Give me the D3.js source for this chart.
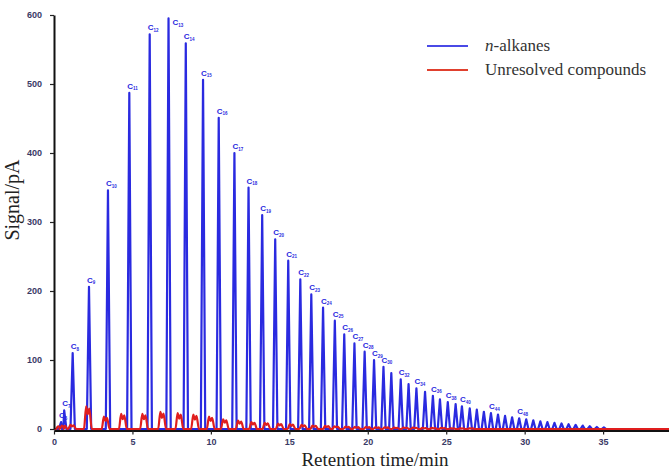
<!DOCTYPE html>
<html>
<head>
<meta charset="utf-8">
<script src="https://cdn.jsdelivr.net/npm/d3@7"></script>
<style>
  body { margin: 0; background: #fff; }
  svg { display: block; }
</style>
</head>
<body>
<svg width="669" height="472"></svg>
<script>
'use strict';

// retention time (min) and signal (pA) of the n-alkane peaks, C6 upwards
const alkaneTimes = [0.45, 0.65, 1.19, 2.23, 3.44, 4.8, 6.1, 7.3, 8.4, 9.5, 10.5, 11.5, 12.4, 13.27, 14.1,
  14.93, 15.7, 16.4, 17.15, 17.9, 18.5, 19.15, 19.8, 20.4, 21.0, 21.5, 22.1, 22.6, 23.1, 23.65, 24.15,
  24.6, 25.1, 25.6, 26.0, 26.5, 26.95, 27.4, 27.85, 28.3, 28.75, 29.2, 29.65, 30.1, 30.55, 31.0, 31.45,
  31.9, 32.35, 32.8, 33.25, 33.7, 34.15, 34.6, 35.05]
const alkaneSignal = [10, 27, 110, 206, 346, 487, 572, 595, 559, 506, 451, 400, 350, 310, 275,
  244, 217, 195, 176, 157, 137, 124, 112, 100, 90, 81, 72, 65, 59, 54, 48,
  43, 39, 36, 33, 30, 28, 25, 23, 21, 19, 17, 15.5, 14, 12.5, 11, 10,
  9, 8, 7, 6, 5, 4, 3, 2.5]

// humps of the unresolved compounds
const unresolvedTimes = [0.38, 0.62, 1.17, 2.17, 3.3, 4.4, 5.75, 6.9, 8.0, 9.0, 10.0, 10.9, 11.85, 12.7,
  13.55, 14.4, 15.15, 15.9, 16.6, 17.4, 18.0, 18.7, 19.3, 20.0, 20.6, 21.2, 21.8, 22.4, 23.0, 23.6,
  24.2, 24.8, 25.4, 26.0, 26.6]
const unresolvedSignal = [4, 5, 6, 33, 18, 22, 22, 25, 23, 21, 18, 14, 12, 10,
  9, 8, 7, 6, 5, 4.5, 4, 3.5, 3, 3, 2.5, 2.5, 2, 2, 2, 1.5,
  1.5, 1.5, 1, 1, 1]

// carbon numbers that carry a label
const labelledCarbons = [6, 7, 8, 9, 10, 11, 12, 13, 14, 15, 16, 17, 18, 19, 20, 21, 22, 23, 24, 25,
  26, 27, 28, 29, 30, 32, 34, 36, 38, 40, 44, 48]
const firstCarbon = 6

const xTicks = [0, 5, 10, 15, 20, 25, 30, 35]
const yTicks = [0, 100, 200, 300, 400, 500, 600]
const seriesNames = ['n-alkanes', 'Unresolved compounds']

const blue = '#2a2ae0'
const red = '#e01e1e'

const svg = d3.select('svg')
const x = d3.scaleLinear().domain([0, 39.2]).range([54, 669])
const y = d3.scaleLinear().domain([0, 600]).range([429, 15])
const tMax = x.domain()[1]

const line = d3.line().x((d) => x(d[0])).y((d) => y(d[1]))

// peak outline: baseline - apex - baseline
const alkanePts = [[0, 0]]
alkaneTimes.forEach((t, i) => {
  alkanePts.push([t - 0.14, 0], [t, alkaneSignal[i]], [t + 0.14, 0])
})
alkanePts.push([tMax, 0])
alkanePts.sort((a, b) => a[0] - b[0])

const unresPts = [[0, 0]]
unresolvedTimes.forEach((t, i) => {
  const h = unresolvedSignal[i]
  unresPts.push([t - 0.26, 0], [t - 0.12, h], [t - 0.02, h * 0.65], [t + 0.08, h * 0.9], [t + 0.24, 0])
})
unresPts.push([tMax, 0])
unresPts.sort((a, b) => a[0] - b[0])

svg.append('path')
  .datum(alkanePts)
  .attr('d', line)
  .style('fill', 'none')
  .style('stroke', blue)
  .style('stroke-width', 2.2)
  .style('stroke-linejoin', 'round')

svg.append('path')
  .datum(unresPts)
  .attr('d', line.curve(d3.curveMonotoneX))
  .style('fill', 'none')
  .style('stroke', red)
  .style('stroke-width', 2.2)

// peak labels
const labels = svg.append('g')
  .style('font-family', '"Liberation Sans", Arial, sans-serif')
  .style('font-weight', 'bold')
  .style('fill', blue)
labelledCarbons.forEach((c) => {
  const i = c - firstCarbon
  const px = x(alkaneTimes[i])
  const py = y(alkaneSignal[i])
  const top = py < 30
  const txt = labels.append('text')
    .attr('x', top ? px + 4 : px - 2)
    .attr('y', top ? py + 7 : py - 4)
    .style('font-size', '8px')
    .text('C')
  txt.append('tspan')
    .attr('dy', 1.5)
    .style('font-size', '4.5px')
    .text(c)
})

// axes
const xAxis = svg.append('g')
  .attr('transform', `translate(0,${y(0) + 1.5})`)
  .call(d3.axisBottom(x).tickValues(xTicks).tickSize(4).tickSizeOuter(0))
const yAxis = svg.append('g')
  .attr('transform', `translate(${x(0)},0)`)
  .call(d3.axisLeft(y).tickValues(yTicks).tickSize(4).tickSizeOuter(0).tickPadding(8))

;[xAxis, yAxis].forEach((g) => {
  g.select('.domain').style('stroke', '#111').style('stroke-width', 2)
  g.selectAll('.tick line').style('stroke', '#222').style('stroke-width', 1.2)
  g.selectAll('.tick text')
    .style('font-family', '"Liberation Sans", Arial, sans-serif')
    .style('font-weight', 'bold')
    .style('font-size', '9px')
    .style('fill', '#3a3a66')
})
xAxis.selectAll('.tick text').attr('dy', '0.85em')

// axis titles
svg.append('text')
  .attr('x', 375)
  .attr('y', 466)
  .attr('text-anchor', 'middle')
  .style('font-family', '"Liberation Serif", "Times New Roman", serif')
  .style('font-size', '19px')
  .style('fill', '#222')
  .text('Retention time/min')

svg.append('text')
  .attr('transform', 'translate(19,200) rotate(-90)')
  .attr('text-anchor', 'middle')
  .style('font-family', '"Liberation Serif", "Times New Roman", serif')
  .style('font-size', '20px')
  .style('fill', '#222')
  .text('Signal/pA')

// legend
const legend = svg.append('g')
  .style('font-family', '"Liberation Serif", "Times New Roman", serif')
  .style('font-size', '17px')
  .style('fill', '#333')
const legendColors = ['#4a4ae6', '#e0402e']
seriesNames.forEach((name, i) => {
  const ly = 46 + i * 24
  legend.append('line')
    .attr('x1', 427).attr('x2', 468)
    .attr('y1', ly).attr('y2', ly)
    .style('stroke', legendColors[i])
    .style('stroke-width', 2)
  const t = legend.append('text').attr('x', 485).attr('y', ly + 5)
  if (name.startsWith('n-')) {
    t.append('tspan').style('font-style', 'italic').text('n')
    t.append('tspan').text(name.slice(1))
  } else {
    t.text(name)
  }
})
</script>
</body>
</html>
